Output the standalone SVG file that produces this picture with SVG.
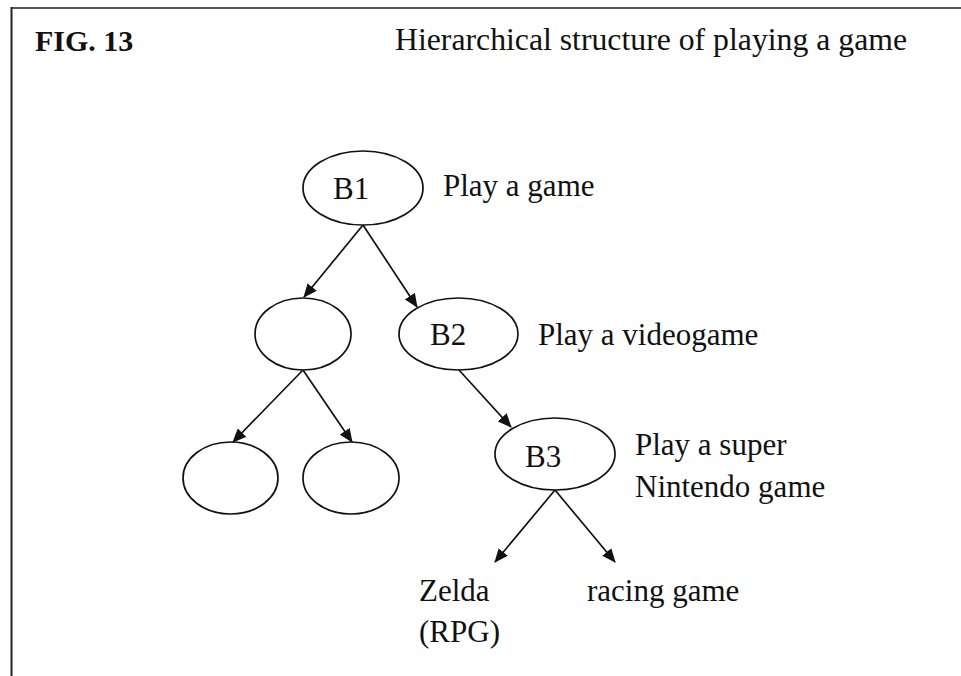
<svg xmlns="http://www.w3.org/2000/svg" width="961" height="676" viewBox="0 0 961 676">
<style>
text{font-family:"Liberation Serif","Times New Roman",serif;font-size:31px;fill:#111}
.bold{font-weight:bold;font-size:30px}
.node ellipse{fill:#fff;stroke:#111;stroke-width:1.7}
.edge{stroke:#111;stroke-width:1.7;fill:none;marker-end:url(#ah)}
</style>
<defs>
<marker id="ah" markerUnits="userSpaceOnUse" markerWidth="14" markerHeight="12" viewBox="0 0 14 12" refX="13" refY="6" orient="auto">
<path d="M0,0 L14,6 L0,12 z" fill="#111"/>
</marker>
</defs>
<rect width="961" height="676" fill="#fff"/>
<g id="frame">
<line x1="11" y1="8" x2="961" y2="8" stroke="#555" stroke-width="2"/>
<line x1="11.5" y1="7" x2="11.5" y2="676" stroke="#222" stroke-width="2"/>
</g>
<g id="title">
<text class="bold" x="35" y="51">FIG. 13</text>
<text x="395" y="50" textLength="512" lengthAdjust="spacingAndGlyphs">Hierarchical structure of playing a game</text>
</g>
<g id="connectors">
<line class="edge" x1="363" y1="225" x2="304" y2="297"/>
<line class="edge" x1="363" y1="225" x2="417" y2="307"/>
<line class="edge" x1="303" y1="370" x2="233" y2="442"/>
<line class="edge" x1="303" y1="370" x2="352" y2="442"/>
<line class="edge" x1="459" y1="370" x2="511" y2="427"/>
<line class="edge" x1="555" y1="490" x2="495" y2="562"/>
<line class="edge" x1="555" y1="490" x2="615" y2="562"/>
</g>
<g id="B1" class="node">
<ellipse cx="363" cy="188" rx="60" ry="37"/>
<text x="333" y="199">B1</text>
<text x="443" y="196">Play a game</text>
</g>
<g id="M1" class="node">
<ellipse cx="303" cy="334" rx="48" ry="36"/>
</g>
<g id="B2" class="node">
<ellipse cx="458.5" cy="334" rx="59.5" ry="36"/>
<text x="430" y="345">B2</text>
<text x="538" y="345">Play a videogame</text>
</g>
<g id="L1" class="node">
<ellipse cx="230.5" cy="478" rx="47.5" ry="36"/>
</g>
<g id="L2" class="node">
<ellipse cx="351" cy="478" rx="48" ry="36"/>
</g>
<g id="B3" class="node">
<ellipse cx="555" cy="454" rx="60" ry="36"/>
<text x="525" y="467">B3</text>
<text x="635" y="455">Play a super</text>
<text x="635" y="497">Nintendo game</text>
</g>
<g id="zelda" class="node">
<text x="419" y="601">Zelda</text>
<text x="419" y="642">(RPG)</text>
</g>
<g id="racing" class="node">
<text x="587" y="601">racing game</text>
</g>
</svg>
